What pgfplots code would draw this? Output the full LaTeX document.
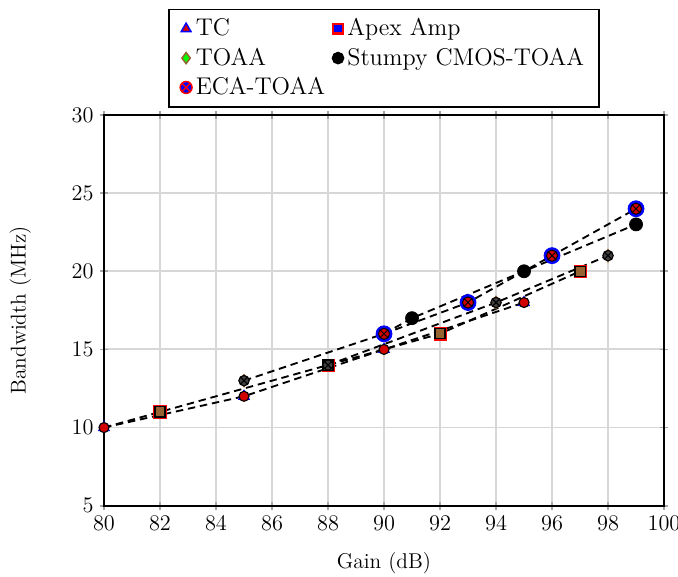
\documentclass[border=0pt]{standalone}
\usepackage{pgfplots}
\pgfplotsset{compat=1.18}

\definecolor{mkred}{RGB}{210,0,0}
\definecolor{mkbrown}{RGB}{150,100,50}
\definecolor{gridgray}{RGB}{215,215,215}

\begin{document}
\begin{tikzpicture}
\begin{axis}[
    name=main,
    scale only axis,
    width=301pt, height=210pt,
    xmin=80, xmax=100, ymin=5, ymax=30,
    xtick={80,82,...,100}, ytick={5,10,...,30},
    xlabel={Gain (dB)}, ylabel={Bandwidth (MHz)},
    label style={font=\fontsize{11.5}{14}\selectfont},
    tick label style={font=\fontsize{11.5}{14}\selectfont},
    xlabel shift=5pt, ylabel shift=15pt,
    grid=major,
    grid style={gridgray, line width=1pt},
    axis line style={line width=0.9pt},
    major tick style={gray!70, line width=0.9pt},
    tick align=center,
    legend columns=2,
    legend cell align=left,
    legend style={at={(0.5,1)}, anchor=south, yshift=4pt,
        font=\fontsize{13}{15.6}\selectfont, draw=black, line width=0.8pt,
        inner xsep=6pt, inner ysep=3pt,
        /tikz/row sep=1pt,
        /tikz/column 2/.style={column sep=2pt},
        /tikz/column 4/.style={column sep=6pt}},
]
% legend entries
\addlegendimage{only marks, mark=triangle*, mark size=3pt, draw=blue, fill=mkred}
\addlegendentry{TC}
\addlegendimage{only marks, mark=square*, mark size=2.6pt, draw=red, fill=blue, line width=1.2pt}
\addlegendentry{Apex Amp}
\addlegendimage{only marks, mark=diamond*, mark size=3pt, draw=mkbrown, fill=green, line width=0.8pt}
\addlegendentry{TOAA}
\addlegendimage{only marks, mark=*, mark size=3pt, black}
\addlegendentry{Stumpy CMOS-TOAA}
\addlegendimage{only marks, mark=otimes*, mark size=3.2pt, draw=red, fill=blue, line width=0.8pt}
\addlegendentry{ECA-TOAA}

% dashed lines
\pgfplotsset{dline/.style={forget plot, black, line width=1pt, dash pattern=on 4pt off 2.6pt}}
\addplot[dline] coordinates {(80,10) (85,12) (90,15) (95,18)};
\addplot[dline] coordinates {(80,10) (82,11) (88,14) (92,16) (97,20)};
\addplot[dline] coordinates {(88,14) (94,18) (98,21)};
\addplot[dline] coordinates {(90,16) (91,17) (95,20) (99,23)};
\addplot[dline] coordinates {(85,13) (90,16) (93,18) (96,21) (99,24)};

% TC marks
\addplot[forget plot, only marks, mark=triangle*, mark size=3.4pt, mark options={draw=blue, fill=blue}]
    coordinates {(80,10) (85,12) (90,15) (95,18)};
\addplot[forget plot, only marks, mark=*, mark size=2.7pt, mark options={draw=black, fill=mkred, line width=0.6pt}]
    coordinates {(80,10) (85,12) (90,15) (95,18)};
% Apex Amp marks
\addplot[forget plot, only marks, mark=square*, mark size=3.3pt, mark options={draw=red, fill=red}]
    coordinates {(82,11) (88,14) (92,16) (97,20)};
\addplot[forget plot, only marks, mark=square*, mark size=2.7pt, mark options={draw=black, fill=mkbrown, line width=0.6pt}]
    coordinates {(82,11) (88,14) (92,16) (97,20)};
% TOAA marks
\addplot[forget plot, only marks, mark=diamond*, mark size=3.5pt, mark options={draw=mkbrown, fill=mkbrown}]
    coordinates {(85,13) (94,18) (98,21)};
\addplot[forget plot, only marks, mark=otimes*, mark size=2.8pt, mark options={draw=black, fill=black!75, line width=0.6pt}]
    coordinates {(85,13) (88,14) (94,18) (98,21)};
% Stumpy CMOS-TOAA marks
\addplot[forget plot, only marks, mark=*, mark size=3.5pt, mark options={draw=black, fill=black}]
    coordinates {(91,17) (95,20) (99,23)};
% ECA-TOAA marks
\addplot[forget plot, only marks, mark=*, mark size=4.3pt, mark options={draw=blue, fill=blue}]
    coordinates {(90,16) (93,18) (96,21) (99,24)};
\addplot[forget plot, only marks, mark=otimes*, mark size=3pt, mark options={draw=black, fill=mkred, line width=0.5pt}]
    coordinates {(90,16) (93,18) (96,21) (99,24)};
\end{axis}
% page frame in the reference's proportions
\pgfresetboundingbox
\useasboundingbox ([xshift=-55.9pt, yshift=-38.2pt]main.south west)
    rectangle ([xshift=7.5pt, yshift=61.8pt]main.north east);
\end{tikzpicture}
\end{document}
